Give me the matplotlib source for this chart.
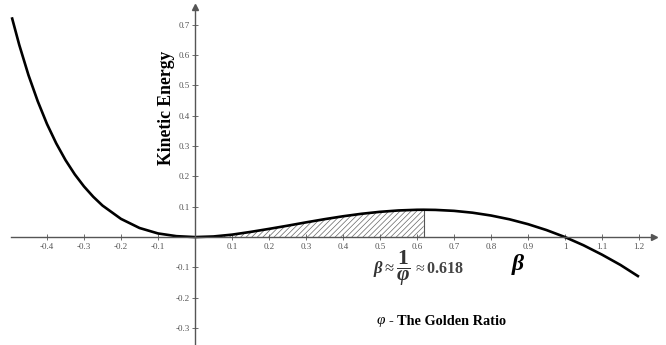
import matplotlib.pyplot as plt
import numpy as np

# values
beta = [-0.495, -0.475, -0.45, -0.425, -0.40, -0.375, -0.35, -0.325, -0.30, -0.275,
        -0.25, -0.20, -0.15, -0.10, -0.05, 0.0, 0.05, 0.10, 0.15, 0.20, 0.25,
        0.30, 0.35, 0.40, 0.45, 0.50, 0.55, 0.60, 0.618, 0.65, 0.70, 0.75,
        0.80, 0.85, 0.90, 0.95, 1.00, 1.05, 1.10, 1.15, 1.20]
energy = [0.725, 0.634, 0.534, 0.448, 0.373, 0.309, 0.254, 0.207, 0.167, 0.133,
          0.104, 0.060, 0.030, 0.012, 0.003, 0.0, 0.002, 0.008, 0.017, 0.027, 0.0375,
          0.0485, 0.059, 0.0686, 0.0768, 0.0833, 0.0878, 0.090, 0.0902, 0.0896, 0.0865, 0.0804,
          0.0711, 0.0586, 0.0426, 0.0231, 0.0, -0.027, -0.058, -0.092, -0.131]
golden = 0.618

x_ticks = [-0.4, -0.3, -0.2, -0.1, 0.1, 0.2, 0.3, 0.4, 0.5, 0.6, 0.7, 0.8, 0.9, 1.0, 1.1, 1.2]
x_labels = ['-0.4', '-0.3', '-0.2', '-0.1', '0.1', '0.2', '0.3', '0.4', '0.5', '0.6',
            '0.7', '0.8', '0.9', '1', '1.1', '1.2']
y_ticks = [-0.3, -0.2, -0.1, 0.1, 0.2, 0.3, 0.4, 0.5, 0.6, 0.7]
y_labels = ['-0.3', '-0.2', '-0.1', '0.1', '0.2', '0.3', '0.4', '0.5', '0.6', '0.7']

plt.rcParams['font.family'] = ['Liberation Serif', 'DejaVu Serif']
plt.rcParams['mathtext.fontset'] = 'custom'
plt.rcParams['mathtext.rm'] = 'Liberation Serif'
plt.rcParams['mathtext.it'] = 'Liberation Serif:italic'
plt.rcParams['mathtext.bf'] = 'Liberation Serif:bold'
plt.rcParams['mathtext.bfit'] = 'Liberation Serif:italic:bold'
plt.rcParams['hatch.linewidth'] = 0.5

fig = plt.figure(figsize=(6.66, 3.45), dpi=100)
ax = fig.add_axes([0, 0, 1, 1])
ax.set_xlim(-0.527, 1.273)
ax.set_ylim(-0.356, 0.782)

axis_col = '#555555'
for side in ['top', 'right']:
    ax.spines[side].set_visible(False)
ax.spines['bottom'].set_position(('data', 0))
ax.spines['left'].set_position(('data', 0))
ax.spines['bottom'].set_bounds(-0.497, 1.24)
ax.spines['left'].set_bounds(-0.356, 0.76)
for side in ['bottom', 'left']:
    ax.spines[side].set_color(axis_col)
    ax.spines[side].set_linewidth(1.0)
ax.plot(1.24, 0, '>', color=axis_col, ms=4, clip_on=False)
ax.plot(0, 0.76, '^', color=axis_col, ms=4, clip_on=False)

ax.set_xticks(x_ticks, x_labels)
ax.set_yticks(y_ticks, y_labels)
ax.tick_params(direction='inout', length=4, width=0.6, color=axis_col,
               labelsize=6.5, labelcolor='#555555', pad=2)

b = np.array(beta)
e = np.array(energy)
mask = (b >= 0) & (b <= golden)
ax.fill_between(b[mask], 0, e[mask], facecolor='none', edgecolor='#666666',
                hatch='//////', linewidth=0)
ax.vlines(golden, 0, e[b == golden][0], color='#555555', lw=0.8)
ax.plot(b, e, color='black', lw=1.9, solid_capstyle='butt')

ax.text(-0.078, 0.427, 'Kinetic Energy', rotation=90, ha='center', va='center',
        fontsize=12.7, fontweight='bold')

# beta ~ 1/phi ~ 0.618
txt_col = '#333333'
ax.text(0.481, -0.104, r'$\mathbfit{\beta}\approx$', ha='left', va='center',
        fontsize=12, color=txt_col)
ax.text(0.563, -0.104, r'$\dfrac{\mathbf{1}}{\mathbfit{\varphi}}$', ha='center', va='center',
        fontsize=15.5, color=txt_col)
ax.text(0.588, -0.104, r'$\approx\mathbf{0.618}$', ha='left', va='center',
        fontsize=11.5, color='#444444')

ax.text(0.873, -0.092, r'$\mathbfit{\beta}$', ha='center', va='center', fontsize=17)
ax.text(0.489, -0.28, r'$\varphi$', ha='left', va='center', fontsize=11)
ax.text(0.524, -0.28, '- The Golden Ratio', ha='left', va='center', fontsize=10.3,
        fontweight='bold')

fig.savefig('out.png', dpi=100)
